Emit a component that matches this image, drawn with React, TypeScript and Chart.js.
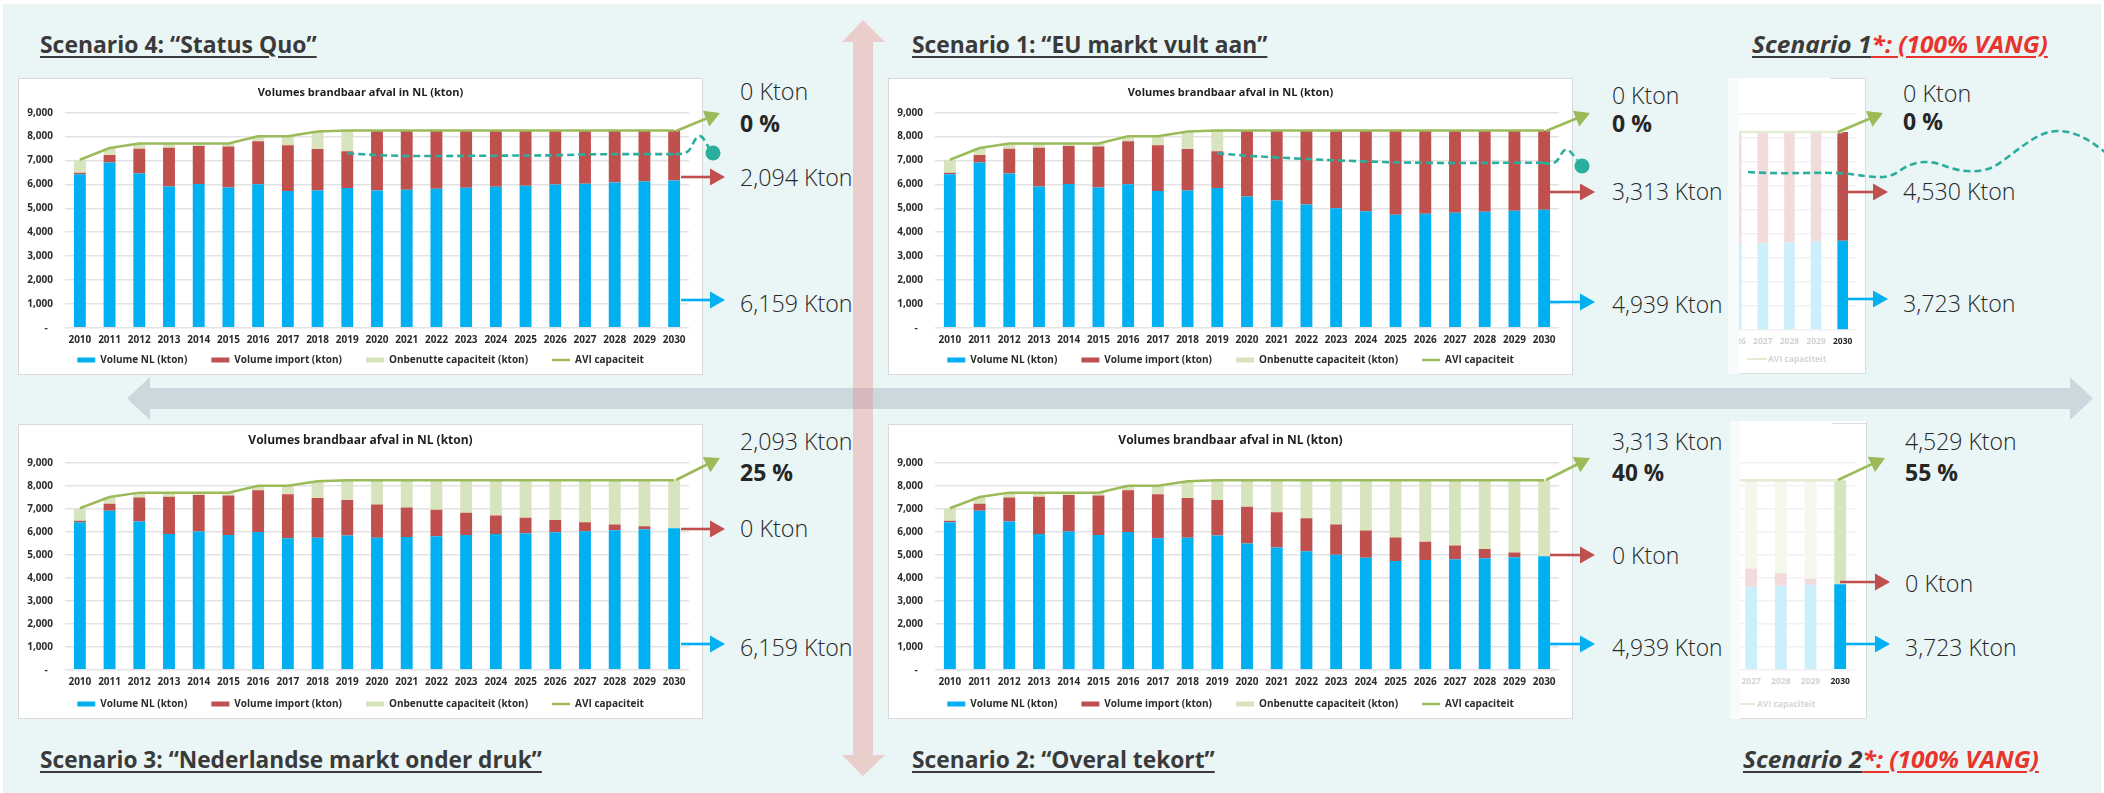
import React, { useEffect, useLayoutEffect, useRef, useState } from 'react';
import { Chart, registerables } from 'chart.js';

Chart.register(...registerables);

// ---------------- DATA ----------------
const YEARS = ['2010','2011','2012','2013','2014','2015','2016','2017','2018','2019','2020','2021','2022','2023','2024','2025','2026','2027','2028','2029','2030'];
const AVI_CAPACITY = [7030,7520,7710,7710,7710,7710,8010,8010,8210,8253,8253,8253,8253,8253,8253,8253,8253,8253,8253,8253,8253];
const NL_STABLE = [6420,6920,6450,5910,6020,5870,6000,5725,5745,5845,5745,5775,5815,5860,5905,5945,5990,6030,6075,6115,6159];
const NL_DECLINE = [6420,6920,6450,5910,6020,5870,6000,5725,5745,5845,5490,5320,5160,5000,4870,4730,4775,4810,4855,4900,4939];
const IMPORT_S4 = [70,310,1045,1625,1590,1710,1810,1915,1735,1545,2508,2478,2438,2393,2348,2308,2263,2223,2178,2138,2094];
const UNUSED_S4 = [540,290,215,175,100,130,200,370,730,863,0,0,0,0,0,0,0,0,0,0,0];
const IMPORT_S1 = [70,310,1045,1625,1590,1710,1810,1915,1735,1545,2763,2933,3093,3253,3383,3523,3478,3443,3398,3353,3313];
const UNUSED_S1 = [540,290,215,175,100,130,200,370,730,863,0,0,0,0,0,0,0,0,0,0,0];
const IMPORT_S3 = [70,310,1045,1625,1590,1710,1810,1915,1735,1545,1450,1290,1145,970,810,670,525,390,250,130,0];
const UNUSED_S3 = [540,290,215,175,100,130,200,370,730,863,1058,1188,1293,1423,1538,1638,1738,1833,1928,2008,2093];
const IMPORT_S2 = [70,310,1045,1625,1590,1710,1810,1915,1735,1545,1610,1535,1435,1320,1190,1030,800,595,405,205,0];
const UNUSED_S2 = [540,290,215,175,100,130,200,370,730,863,1153,1398,1658,1933,2193,2493,2678,2848,2993,3148,3313];
const TREND_S4 = [null,null,null,null,null,null,null,null,null,7300,7225,7185,7185,7195,7200,7210,7215,7255,7265,7268,7268];
const TREND_S1 = [null,null,null,null,null,null,null,null,null,7300,7195,7130,7060,7005,6960,6920,6905,6890,6900,6905,6905];

const MINI_YEARS = ['2026','2027','2028','2029','2030'];
const MINI_NL = [3580,3612,3650,3695,3723];
const MINI_CAPACITY = [8253,8253,8253,8253,8253];
const MINI1_IMPORT = [4673,4641,4603,4558,4530];
const MINI1_UNUSED = [0,0,0,0,0];
const MINI2_IMPORT = [1000,796,552,261,0];
const MINI2_UNUSED = [3673,3845,4051,4297,4529];

const SERIES_NAMES = ['Volume NL (kton)','Volume import (kton)','Onbenutte capaciteit (kton)','AVI capaciteit'];
const CHART_TITLE = 'Volumes brandbaar afval in NL (kton)';

const LABELS_S4 = ['0 Kton','0 %','2,094 Kton','6,159 Kton'];
const LABELS_S1 = ['0 Kton','0 %','3,313 Kton','4,939 Kton'];
const LABELS_S1X = ['0 Kton','0 %','4,530 Kton','3,723 Kton'];
const LABELS_S3 = ['2,093 Kton','25 %','0 Kton','6,159 Kton'];
const LABELS_S2 = ['3,313 Kton','40 %','0 Kton','4,939 Kton'];
const LABELS_S2X = ['4,529 Kton','55 %','0 Kton','3,723 Kton'];

// ---------------- STYLE ----------------
const FONT = "'Open Sans', 'Noto Sans', 'DejaVu Sans', sans-serif";
const BLUE = '#00B0F0';
const RED = '#C0504D';
const UNUSED = '#D7E4BD';
const GREEN = '#9BBB59';
const TEAL = '#2AAE9E';
const BLUE_F = '#CCEFFC';
const RED_F = '#F2DCDB';
const UNUSED_F = '#F4F7EC';
const GREEN_F = '#E3EBD2';
const TICK = '#2B2B2B';

Chart.defaults.font.family = FONT;

function ChartBox({ config, style }: { config: any; style: React.CSSProperties }) {
  const ref = useRef<HTMLCanvasElement>(null);
  useEffect(() => {
    const chart = new Chart(ref.current as HTMLCanvasElement, config);
    return () => chart.destroy();
  }, []);
  return (
    <div style={{ position: 'absolute', ...style }}>
      <canvas ref={ref} />
    </div>
  );
}

const LEGEND_FONT = 10;
const LEGEND_PAD = 4;
const LEGEND_GAP = '\u2003\u2003';

function mainConfig(nl: number[], imp: number[], unused: number[], trend: (number | null)[] | null, top: boolean) {
  const H = top ? 297 : 295;
  const plotBottom = top ? 249.7 : 245.7;
  const legendH = LEGEND_FONT + LEGEND_PAD + 10;
  const xH = H - legendH - plotBottom;
  const datasets: any[] = [
    { type: 'bar', label: SERIES_NAMES[0], data: nl, backgroundColor: BLUE, stack: 'v', order: 1 },
    { type: 'bar', label: SERIES_NAMES[1], data: imp, backgroundColor: RED, stack: 'v', order: 1 },
    { type: 'bar', label: SERIES_NAMES[2], data: unused, backgroundColor: UNUSED, stack: 'v', order: 1 },
    { type: 'line', label: SERIES_NAMES[3], data: AVI_CAPACITY, borderColor: GREEN, backgroundColor: GREEN, borderWidth: 2.5, pointRadius: 0, stack: 'cap', order: 0, tension: 0 },
  ];
  if (trend) {
    datasets.push({ type: 'line', label: 'trend', data: trend, borderColor: TEAL, borderDash: [7, 4], borderWidth: 2.6, pointRadius: 0, stack: 'trend', order: 0, spanGaps: false });
  }
  return {
    type: 'bar',
    data: { labels: YEARS, datasets },
    options: {
      animation: false,
      responsive: true,
      maintainAspectRatio: false,
      layout: { padding: 0, autoPadding: false },
      datasets: { bar: { barPercentage: 0.4, categoryPercentage: 1 } },
      plugins: {
        tooltip: { enabled: false },
        title: {
          display: true,
          text: CHART_TITLE,
          color: '#1E1E1E',
          font: { size: top ? 11 : 12, weight: 'bold', family: FONT },
          padding: top ? { top: 8.7, bottom: 12.8 } : { top: 9.8, bottom: 14.8 },
        },
        legend: {
          position: 'bottom',
          labels: {
            usePointStyle: true,
            pointStyleWidth: 18,
            boxHeight: 5,
            padding: LEGEND_PAD,
            color: TICK,
            font: { size: LEGEND_FONT, weight: 'bold', family: FONT },
            generateLabels: (chart: any) =>
              chart.data.datasets.slice(0, 4).map((d: any, i: number) => ({
                text: i < 3 ? d.label + LEGEND_GAP : d.label,
                fillStyle: i === 3 ? 'rgba(0,0,0,0)' : d.backgroundColor,
                strokeStyle: i === 3 ? GREEN : d.backgroundColor,
                lineWidth: i === 3 ? 2.5 : 0,
                pointStyle: i === 3 ? 'line' : 'rect',
                hidden: false,
                datasetIndex: i,
                fontColor: TICK,
              })),
          },
        },
      },
      scales: {
        x: {
          stacked: true,
          grid: { display: false, drawTicks: false },
          border: { display: false },
          ticks: { color: TICK, font: { size: 10, weight: 'bold', family: FONT }, padding: 6.3, maxRotation: 0, autoSkip: false },
          afterFit: (s: any) => { s.height = xH; },
        },
        y: {
          stacked: true,
          min: 0,
          max: 9000,
          border: { display: false },
          grid: { color: '#E3E3E3', lineWidth: 1.5, drawTicks: false },
          ticks: {
            stepSize: 1000,
            padding: 12,
            color: TICK,
            font: { size: 10, weight: 'bold', family: FONT },
            callback: (v: any) => (Number(v) === 0 ? '-  ' : Number(v).toLocaleString('en-US')),
          },
          afterFit: (s: any) => { s.width = 47; },
        },
        y2: {
          position: 'right',
          grid: { display: false, drawTicks: false },
          border: { display: false },
          ticks: { display: false },
          afterFit: (s: any) => { s.width = 14; },
        },
      },
    },
  };
}

function miniConfig(imp: number[], unused: number[], padTop: number, padRight: number, xH: number, tickPad: number) {
  const last = MINI_YEARS.length - 1;
  const shade = (full: string, faded: string) => MINI_YEARS.map((_, i) => (i === last ? full : faded));
  return {
    type: 'bar',
    data: {
      labels: MINI_YEARS,
      datasets: [
        { type: 'bar', label: SERIES_NAMES[0], data: MINI_NL, backgroundColor: shade(BLUE, BLUE_F), stack: 'v', order: 1 },
        { type: 'bar', label: SERIES_NAMES[1], data: imp, backgroundColor: shade(RED, RED_F), stack: 'v', order: 1 },
        { type: 'bar', label: SERIES_NAMES[2], data: unused, backgroundColor: shade(UNUSED, UNUSED_F), stack: 'v', order: 1 },
        { type: 'line', label: SERIES_NAMES[3], data: MINI_CAPACITY, borderColor: GREEN_F, borderWidth: 2.5, pointRadius: 0, stack: 'cap', order: 0 },
      ],
    },
    options: {
      animation: false,
      responsive: true,
      maintainAspectRatio: false,
      layout: { padding: { top: padTop, right: padRight, left: 0, bottom: 0 }, autoPadding: false },
      datasets: { bar: { barPercentage: 0.4, categoryPercentage: 1 } },
      plugins: { legend: { display: false }, title: { display: false }, tooltip: { enabled: false } },
      scales: {
        x: {
          stacked: true,
          grid: { display: false, drawTicks: false },
          border: { display: false },
          ticks: {
            color: (c: any) => (c.index === last ? '#262626' : '#D2D2D2'),
            font: { size: 8.5, weight: 'bold', family: FONT },
            padding: tickPad,
            maxRotation: 0,
            autoSkip: false,
          },
          afterFit: (s: any) => { s.height = xH; },
        },
        y: {
          stacked: true,
          min: 0,
          max: 9000,
          border: { display: false },
          grid: { color: '#F1F1F1', lineWidth: 1.5, drawTicks: false },
          ticks: { display: false, stepSize: 1000 },
          afterFit: (s: any) => { s.width = 0; },
        },
      },
    },
  };
}

function FitText(props: { x: number; bl: number; size: number; w: number; weight?: number; italic?: boolean; color?: string; children: React.ReactNode }) {
  const { x, bl, size, w, weight = 300, italic = false, color = '#262626', children } = props;
  const ref = useRef<HTMLSpanElement>(null);
  const [sx, setSx] = useState(1);
  useLayoutEffect(() => {
    const measure = () => {
      const el = ref.current;
      if (!el) return;
      const nat = el.offsetWidth;
      if (nat > 0) setSx(w / nat);
    };
    measure();
    const f: any = (document as any).fonts;
    if (f && f.ready) f.ready.then(measure);
  }, [w]);
  return (
    <span
      ref={ref}
      style={{
        position: 'absolute',
        left: x,
        top: bl - 0.888 * size,
        fontFamily: FONT,
        fontSize: size,
        lineHeight: `${size}px`,
        fontWeight: weight,
        fontStyle: italic ? 'italic' : 'normal',
        color,
        whiteSpace: 'nowrap',
        display: 'inline-block',
        transform: `scaleX(${sx})`,
        transformOrigin: 'left top',
      }}
    >
      {children}
    </span>
  );
}

const UL = (color: string): React.CSSProperties => ({
  textDecoration: 'underline',
  textDecorationColor: color,
  textDecorationThickness: '1.5px',
  textUnderlineOffset: '3px',
});

function Arrow({ x1, y1, x2, y2, color }: { x1: number; y1: number; x2: number; y2: number; color: string }) {
  const dx = x2 - x1;
  const dy = y2 - y1;
  const len = Math.hypot(dx, dy);
  const ux = dx / len;
  const uy = dy / len;
  const L = 15;
  const W = 8.5;
  const bx = x2 - ux * L;
  const by = y2 - uy * L;
  const pts = `${x2},${y2} ${bx - uy * W},${by + ux * W} ${bx + uy * W},${by - ux * W}`;
  return (
    <g>
      <line x1={x1} y1={y1} x2={bx + ux * 1} y2={by + uy * 1} stroke={color} strokeWidth={2.6} />
      <polygon points={pts} fill={color} />
    </g>
  );
}

function AnnotationGroup({ x, labels, bls, ws }: { x: number; labels: string[]; bls: number[]; ws: number[] }) {
  return (
    <>
      {labels.map((t, i) => (
        <FitText key={i} x={x} bl={bls[i]} size={23} w={ws[i]} weight={t.includes('%') ? 700 : 300}>
          {t}
        </FitText>
      ))}
    </>
  );
}

export default function App() {
  useEffect(() => {
    document.body.style.margin = '0';
  }, []);

  const boxStyle = (x: number, y: number, w: number, h: number): React.CSSProperties => ({
    position: 'absolute',
    left: x,
    top: y,
    width: w,
    height: h,
    background: '#FFFFFF',
    outline: '1px solid #D9D9D9',
    outlineOffset: '-1px',
  });

  const titleColor = '#3A3A3A';
  const redTitle = '#E8342C';

  return (
    <div style={{ position: 'absolute', left: 0, top: 0, width: 2104, height: 793, background: '#FFFFFF', overflow: 'hidden', fontFamily: FONT }}>
      <div style={{ position: 'absolute', left: 3, top: 4, width: 2098, height: 789, background: '#EAF5F5' }} />

      {/* big direction arrows */}
      <svg width={2104} height={793} style={{ position: 'absolute', left: 0, top: 0 }}>
        <polygon points="127,398.5 150,377 150,388 2070,388 2070,377 2093,398.5 2070,420 2070,409 150,409 150,420" fill="#CBD9DE" />
        <polygon points="863,20 885,42 873,42 873,755 885,755 863,776 842,755 853,755 853,42 842,42" fill="rgba(234,116,109,0.3)" />
      </svg>

      {/* main charts */}
      <div style={boxStyle(18, 78, 685, 297)}>
        <ChartBox config={mainConfig(NL_STABLE, IMPORT_S4, UNUSED_S4, TREND_S4, true)} style={{ left: 0, top: 0, width: 685, height: 297 }} />
      </div>
      <div style={boxStyle(888, 78, 685, 297)}>
        <ChartBox config={mainConfig(NL_DECLINE, IMPORT_S1, UNUSED_S1, TREND_S1, true)} style={{ left: 0, top: 0, width: 685, height: 297 }} />
      </div>
      <div style={boxStyle(18, 424, 685, 295)}>
        <ChartBox config={mainConfig(NL_STABLE, IMPORT_S3, UNUSED_S3, null, false)} style={{ left: 0, top: 0, width: 685, height: 295 }} />
      </div>
      <div style={boxStyle(888, 424, 685, 295)}>
        <ChartBox config={mainConfig(NL_DECLINE, IMPORT_S2, UNUSED_S2, null, false)} style={{ left: 0, top: 0, width: 685, height: 295 }} />
      </div>

      {/* mini chart 1* */}
      <div style={{ position: 'absolute', left: 1728, top: 78, width: 138, height: 296, background: '#FFFFFF', borderRight: '1px solid #DCDCDC', borderBottom: '1px solid #DCDCDC', boxSizing: 'border-box' }} />
      <div style={{ position: 'absolute', left: 1728, top: 78, width: 11, height: 296, background: '#F8FBFB' }} />
      <div style={{ position: 'absolute', left: 1830, top: 78, width: 36, height: 1, background: '#DCDCDC' }} />
      <div style={{ position: 'absolute', left: 1739, top: 78, width: 126, height: 295, overflow: 'hidden' }}>
        <ChartBox config={miniConfig(MINI1_IMPORT, MINI1_UNUSED, 36, 10, 44, 6.5)} style={{ left: 1720 - 1739, top: 0, width: 146, height: 296 }} />
      </div>
      <div style={{ position: 'absolute', left: 1747, top: 358, width: 20, height: 2, background: GREEN_F }} />
      <div style={{ position: 'absolute', left: 1768, top: 352, fontSize: 8.5, lineHeight: '14px', fontWeight: 700, color: '#D4D4D4', whiteSpace: 'nowrap' }}>{SERIES_NAMES[3]}</div>

      {/* mini chart 2* */}
      <div style={{ position: 'absolute', left: 1730, top: 421, width: 137, height: 298, background: '#FFFFFF', borderRight: '1px solid #DCDCDC', borderBottom: '1px solid #DCDCDC', boxSizing: 'border-box' }} />
      <div style={{ position: 'absolute', left: 1730, top: 421, width: 10, height: 298, background: '#F8FBFB' }} />
      <div style={{ position: 'absolute', left: 1832, top: 423, width: 35, height: 1, background: '#DCDCDC' }} />
      <div style={{ position: 'absolute', left: 1740, top: 421, width: 126, height: 297, overflow: 'hidden' }}>
        <ChartBox config={miniConfig(MINI2_IMPORT, MINI2_UNUSED, 42, 12, 49.3, 6.8)} style={{ left: 1705 - 1740, top: 0, width: 162, height: 298 }} />
      </div>
      <div style={{ position: 'absolute', left: 1740, top: 703, width: 15, height: 2, background: GREEN_F }} />
      <div style={{ position: 'absolute', left: 1757, top: 697, fontSize: 8.5, lineHeight: '14px', fontWeight: 700, color: '#D4D4D4', whiteSpace: 'nowrap' }}>{SERIES_NAMES[3]}</div>

      {/* scenario titles */}
      <FitText x={40} bl={53} size={23} w={277} weight={700} color={titleColor}>
        <span style={UL(titleColor)}>Scenario 4: “Status Quo”</span>
      </FitText>
      <FitText x={912} bl={53} size={23} w={355} weight={700} color={titleColor}>
        <span style={UL(titleColor)}>Scenario 1: “EU markt vult aan”</span>
      </FitText>
      <FitText x={40} bl={768} size={23} w={502} weight={700} color={titleColor}>
        <span style={UL(titleColor)}>Scenario 3: “Nederlandse markt onder druk”</span>
      </FitText>
      <FitText x={912} bl={768} size={23} w={303} weight={700} color={titleColor}>
        <span style={UL(titleColor)}>Scenario 2: “Overal tekort”</span>
      </FitText>
      <FitText x={1752} bl={53} size={23} w={296} weight={700} italic color={titleColor}>
        <span style={UL(titleColor)}>Scenario 1</span>
        <span style={{ ...UL(redTitle), color: redTitle }}>*: (100% VANG)</span>
      </FitText>
      <FitText x={1743} bl={768} size={23} w={296} weight={700} italic color={titleColor}>
        <span style={UL(titleColor)}>Scenario 2</span>
        <span style={{ ...UL(redTitle), color: redTitle }}>*: (100% VANG)</span>
      </FitText>

      {/* annotation values */}
      <AnnotationGroup x={740} labels={LABELS_S4} bls={[100, 132, 186, 312]} ws={[68, 40, 113, 113]} />
      <AnnotationGroup x={1612} labels={LABELS_S1} bls={[104, 132, 200, 313]} ws={[67, 40, 111, 111]} />
      <AnnotationGroup x={1903} labels={LABELS_S1X} bls={[102, 130, 200, 312]} ws={[68, 40, 113, 113]} />
      <AnnotationGroup x={740} labels={LABELS_S3} bls={[450, 481, 537, 656]} ws={[113, 53, 68, 113]} />
      <AnnotationGroup x={1612} labels={LABELS_S2} bls={[450, 481, 564, 656]} ws={[111, 52, 67, 111]} />
      <AnnotationGroup x={1905} labels={LABELS_S2X} bls={[450, 481, 592, 656]} ws={[112, 53, 68, 112]} />

      {/* annotation arrows and trend extensions */}
      <svg width={2104} height={793} style={{ position: 'absolute', left: 0, top: 0, pointerEvents: 'none' }}>
        {/* scenario 4 */}
        <Arrow x1={676} y1={131} x2={720} y2={113} color={GREEN} />
        <Arrow x1={681} y1={177} x2={725} y2={177} color={RED} />
        <Arrow x1={681} y1={300} x2={725} y2={300} color={BLUE} />
        <path d="M675,154 C683,154 688,154 692,146 C695,139 698,134 702,137 C705,140 707,145 709,148" fill="none" stroke={TEAL} strokeWidth={2.6} strokeDasharray="7 4" />
        <circle cx={713} cy={153} r={7.5} fill={TEAL} />
        {/* scenario 1 */}
        <Arrow x1={1546} y1={131} x2={1590} y2={113} color={GREEN} />
        <Arrow x1={1550} y1={192} x2={1595} y2={192} color={RED} />
        <Arrow x1={1550} y1={302} x2={1595} y2={302} color={BLUE} />
        <path d="M1543,163 C1550,164 1555,165 1559,158 C1562,152 1565,148 1568,150 C1572,152 1574,157 1577,160" fill="none" stroke={TEAL} strokeWidth={2.6} strokeDasharray="7 4" />
        <circle cx={1582} cy={166} r={7.5} fill={TEAL} />
        {/* scenario 1* */}
        <Arrow x1={1838} y1={132} x2={1883} y2={113} color={GREEN} />
        <Arrow x1={1842} y1={192} x2={1888} y2={192} color={RED} />
        <Arrow x1={1842} y1={299} x2={1888} y2={299} color={BLUE} />
        <path d="M1748,172 C1790,175 1820,171 1850,174 C1872,177 1886,180 1898,172 C1910,163 1925,158 1945,166 C1960,172 1980,174 1995,166 C2015,154 2035,131 2058,131 C2075,131 2090,140 2106,153" fill="none" stroke={TEAL} strokeWidth={2.6} strokeDasharray="7 4" />
        {/* scenario 3 */}
        <Arrow x1={676} y1={480} x2={720} y2={458} color={GREEN} />
        <Arrow x1={681} y1={529} x2={725} y2={529} color={RED} />
        <Arrow x1={681} y1={644} x2={725} y2={644} color={BLUE} />
        {/* scenario 2 */}
        <Arrow x1={1546} y1={480} x2={1590} y2={458} color={GREEN} />
        <Arrow x1={1550} y1={555} x2={1595} y2={555} color={RED} />
        <Arrow x1={1550} y1={644} x2={1595} y2={644} color={BLUE} />
        {/* scenario 2* */}
        <Arrow x1={1838} y1={480} x2={1885} y2={458} color={GREEN} />
        <Arrow x1={1840} y1={582} x2={1890} y2={582} color={RED} />
        <Arrow x1={1840} y1={644} x2={1890} y2={644} color={BLUE} />
      </svg>
    </div>
  );
}
